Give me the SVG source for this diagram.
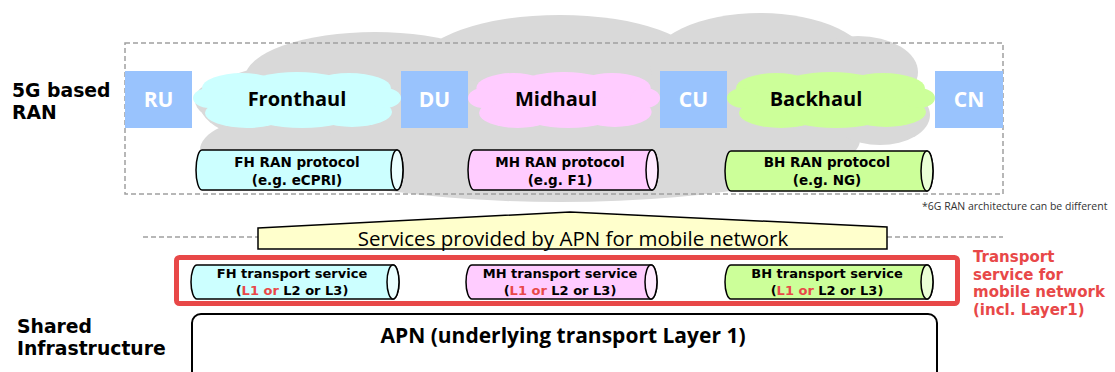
<svg xmlns="http://www.w3.org/2000/svg" width="1115" height="372" viewBox="0 0 1115 372">
<style>
text{font-family:"Open Sans","Noto Sans","DejaVu Sans",sans-serif;}
.dv{font-family:"DejaVu Sans","Open Sans",sans-serif;font-weight:bold;}
.lbl{font-size:18.8px;fill:#000;}
.box{fill:#99c3fd;}
.boxt{font-size:21px;font-weight:bold;fill:#fff;text-anchor:middle;}
.cloudt{font-size:20px;font-weight:bold;text-anchor:middle;fill:#000;}
.cyl{stroke:#000;stroke-width:1.5;}
.cylt{font-size:13.5px;text-anchor:middle;fill:#000;}
.trt{font-size:13px;text-anchor:middle;fill:#000;}
.red{fill:#e84848;}
.redt{font-size:15px;fill:#e84848;}
.dash{fill:none;stroke:#a0a0a0;stroke-width:1.5;stroke-dasharray:5 3;}
.grey{fill:#d9d9d9;}
</style>
<defs>
<g id="cloud">
<ellipse cx="0" cy="0" rx="90" ry="20"/>
<ellipse cx="-55" cy="-12" rx="40" ry="15"/>
<ellipse cx="0" cy="-15" rx="48" ry="13"/>
<ellipse cx="52" cy="-12" rx="42" ry="15"/>
<ellipse cx="-50" cy="13" rx="42" ry="15"/>
<ellipse cx="5" cy="15" rx="50" ry="13"/>
<ellipse cx="55" cy="12" rx="40" ry="15"/>
<ellipse cx="-88" cy="-2" rx="16" ry="10"/>
<ellipse cx="88" cy="-2" rx="16" ry="10"/>
</g>
</defs>

<g id="bg-cloud" class="grey">
<ellipse cx="330" cy="105" rx="130" ry="45"/>
<ellipse cx="375" cy="78" rx="130" ry="46"/>
<ellipse cx="560" cy="65" rx="140" ry="50"/>
<ellipse cx="760" cy="65" rx="110" ry="52"/>
<ellipse cx="858" cy="72" rx="60" ry="36"/>
<ellipse cx="560" cy="140" rx="300" ry="62"/>
<ellipse cx="270" cy="150" rx="70" ry="32"/>
<ellipse cx="880" cy="115" rx="50" ry="30"/>
<ellipse cx="225" cy="100" rx="30" ry="20"/>
</g>

<rect id="ran-frame" class="dash" x="125" y="43" width="878" height="151"/>

<g id="side-labels">
<text class="dv lbl" x="12" y="97">5G based</text>
<text class="dv lbl" x="12" y="119">RAN</text>
<text class="dv lbl" x="17" y="333">Shared</text>
<text class="dv lbl" x="17" y="355">Infrastructure</text>
</g>

<g id="fronthaul">
<use href="#cloud" fill="#ccffff" transform="translate(297,100)"/>
<text class="cloudt" x="297" y="106">Fronthaul</text>
</g>
<g id="midhaul">
<use href="#cloud" fill="#ffccff" transform="translate(564,100) scale(0.923,1)"/>
<text class="cloudt" x="556" y="106">Midhaul</text>
</g>
<g id="backhaul">
<use href="#cloud" fill="#ccff99" transform="translate(831,100)"/>
<text class="cloudt" x="816" y="106">Backhaul</text>
</g>

<g id="ru"><rect class="box" x="125" y="71" width="67" height="57"/><text class="boxt" x="158.5" y="107">RU</text></g>
<g id="du"><rect class="box" x="401" y="71" width="67" height="57"/><text class="boxt" x="434.5" y="107">DU</text></g>
<g id="cu"><rect class="box" x="660" y="71" width="67" height="57"/><text class="boxt" x="693.5" y="107">CU</text></g>
<g id="cn"><rect class="box" x="935" y="71" width="68" height="57"/><text class="boxt" x="969" y="107">CN</text></g>

<g id="fh-ran">
<path class="cyl" fill="#ccffff" d="M202,150 H397 A6,20 0 0 1 397,190 H202 A6,20 0 0 1 202,150 Z"/>
<ellipse class="cyl" fill="#eaffff" cx="397" cy="170" rx="6" ry="20"/>
<text class="dv cylt" x="297" y="167">FH RAN protocol</text>
<text class="dv cylt" x="297" y="185">(e.g. eCPRI)</text>
</g>
<g id="mh-ran">
<path class="cyl" fill="#ffccff" d="M474,150 H652 A6,20 0 0 1 652,190 H474 A6,20 0 0 1 474,150 Z"/>
<ellipse class="cyl" fill="#ffeaff" cx="652" cy="170" rx="6" ry="20"/>
<text class="dv cylt" x="560" y="167">MH RAN protocol</text>
<text class="dv cylt" x="560" y="185">(e.g. F1)</text>
</g>
<g id="bh-ran">
<path class="cyl" fill="#ccff99" d="M731,151 H927 A6,20 0 0 1 927,191 H731 A6,20 0 0 1 731,151 Z"/>
<ellipse class="cyl" fill="#eaffd6" cx="927" cy="171" rx="6" ry="20"/>
<text class="dv cylt" x="827" y="167">BH RAN protocol</text>
<text class="dv cylt" x="827" y="185">(e.g. NG)</text>
</g>

<text id="footnote" x="922" y="210" font-size="10.5" fill="#333">*6G RAN architecture can be different</text>

<g id="connectors">
<line class="dash" x1="143" y1="237" x2="258" y2="237"/>
<line class="dash" x1="887" y1="237" x2="1003" y2="237"/>
</g>

<g id="services">
<polygon points="258,228 570,212 887,227 887,249 258,249" fill="#ffffcc" stroke="#000" stroke-width="1.5"/>
<text x="573" y="246" font-size="20.5" text-anchor="middle" fill="#000">Services provided by APN for mobile network</text>
</g>

<g id="transport-frame">
<rect x="176.5" y="257.5" width="781" height="46" rx="3" fill="none" stroke="#e84848" stroke-width="5"/>
<text class="dv redt" x="973" y="262">Transport</text>
<text class="dv redt" x="973" y="279.5">service for</text>
<text class="dv redt" x="973" y="297">mobile network</text>
<text class="dv redt" x="973" y="314.5">(incl. Layer1)</text>
</g>

<g id="fh-transport">
<path class="cyl" fill="#ccffff" d="M197,265 H393 A6,17 0 0 1 393,299 H197 A6,17 0 0 1 197,265 Z"/>
<ellipse class="cyl" fill="#eaffff" cx="393" cy="282" rx="6" ry="17"/>
<text class="dv trt" x="292" y="278">FH transport service</text>
<text class="dv trt" x="292" y="295">(<tspan class="red">L1 or</tspan> L2 or L3)</text>
</g>
<g id="mh-transport">
<path class="cyl" fill="#ffccff" d="M472,265 H651 A6,17 0 0 1 651,299 H472 A6,17 0 0 1 472,265 Z"/>
<ellipse class="cyl" fill="#ffeaff" cx="651" cy="282" rx="6" ry="17"/>
<text class="dv trt" x="560" y="278">MH transport service</text>
<text class="dv trt" x="560" y="295">(<tspan class="red">L1 or</tspan> L2 or L3)</text>
</g>
<g id="bh-transport">
<path class="cyl" fill="#ccff99" d="M731,265 H927 A6,17 0 0 1 927,299 H731 A6,17 0 0 1 731,265 Z"/>
<ellipse class="cyl" fill="#eaffd6" cx="927" cy="282" rx="6" ry="17"/>
<text class="dv trt" x="827" y="278">BH transport service</text>
<text class="dv trt" x="827" y="295">(<tspan class="red">L1 or</tspan> L2 or L3)</text>
</g>

<g id="apn">
<rect x="192" y="314" width="745" height="70" rx="9" fill="#fff" stroke="#000" stroke-width="2"/>
<text x="563" y="343" font-size="21" font-weight="bold" text-anchor="middle" fill="#000">APN (underlying transport Layer 1)</text>
</g>
</svg>
